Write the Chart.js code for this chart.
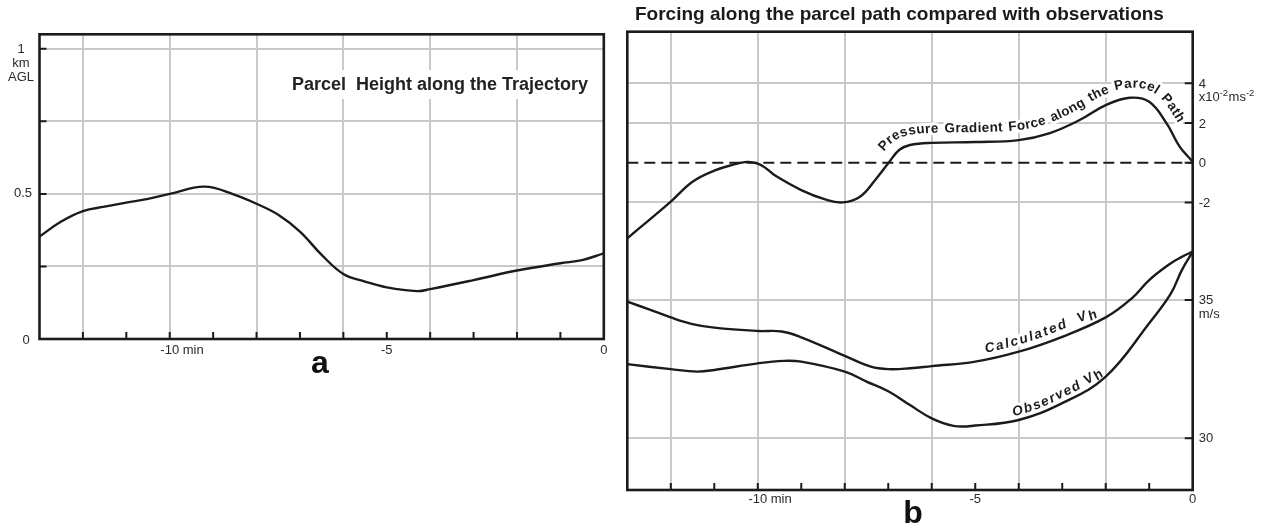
<!DOCTYPE html>
<html>
<head>
<meta charset="utf-8">
<script src="https://cdn.jsdelivr.net/npm/chart.js@4.4.1/dist/chart.umd.min.js"></script>
<style>
  html, body { margin: 0; padding: 0; background: #fff; }
  body { width: 1267px; height: 528px; position: relative; overflow: hidden; }
  canvas { position: absolute; top: 0; }
  #chartA { left: 0; }
  #chartB { left: 620px; }
</style>
</head>
<body>
<canvas id="chartA" width="620" height="528"></canvas>
<canvas id="chartB" width="647" height="528"></canvas>
<script>
// panel a - parcel height (km AGL) against time (min)
const timeA = [-13, -12.5, -12, -11.5, -11, -10.5, -10, -9.2, -8.5, -8, -7.5, -7, -6.5, -6, -5.5, -5, -4.3, -4, -3, -2, -1, -0.5, 0];
const heightA = [0.353, 0.405, 0.441, 0.456, 0.470, 0.483, 0.50, 0.525, 0.497, 0.466, 0.428, 0.37, 0.29, 0.224, 0.198, 0.178, 0.165, 0.172, 0.203, 0.236, 0.261, 0.272, 0.295];

// panel b - pressure gradient force (x10^-2 m s^-2)
const timeForce = [-13, -12.5, -12, -11.5, -11, -10.6, -10.25, -10, -9.8, -9.6, -9, -8.45, -8.05, -7.65, -7.3, -7, -6.75, -6.5, -6, -5, -4, -3.3, -2.6, -2, -1.45, -1, -0.6, -0.3, 0];
const pgForce = [-3.81, -2.89, -1.96, -0.96, -0.40, -0.12, 0.04, -0.05, -0.3, -0.65, -1.38, -1.85, -2.0, -1.71, -0.87, -0.03, 0.64, 0.89, 1.0, 1.04, 1.14, 1.48, 2.15, 2.9, 3.27, 3.07, 1.98, 0.81, 0.05];

// panel b - horizontal wind speed (m/s)
const timeCalc = [-13, -12.5, -12, -11.5, -11, -10, -9.45, -9, -8, -7.4, -7, -6.5, -6, -5, -4, -3, -2, -1.4, -1, -0.5, -0.25, 0];
const calcVh = [34.94, 34.66, 34.37, 34.13, 34.0, 33.88, 33.86, 33.65, 32.98, 32.59, 32.5, 32.53, 32.61, 32.77, 33.13, 33.67, 34.37, 35.06, 35.72, 36.33, 36.56, 36.75];
const timeObs = [-13, -12, -11.4, -11, -10, -9.4, -9, -8, -7.5, -7, -6.5, -6, -5.5, -5, -4, -3, -2, -1, -0.5, -0.25, 0];
const obsVh = [32.68, 32.5, 32.41, 32.47, 32.71, 32.8, 32.77, 32.41, 32.05, 31.7, 31.2, 30.72, 30.45, 30.46, 30.66, 31.27, 32.23, 34.16, 35.24, 36.08, 36.75];

const zeroTimes = [-13, 0];
const zeroForce = [0, 0];

// ticks and labels
const gridMinutes = [-12, -10, -8, -6, -4, -2];
const tickMinutes = [-12, -11, -10, -9, -8, -7, -6, -5, -4, -3, -2, -1];
const minuteLabelValues = [-10, -5, 0];
const minuteLabelTexts = ['-10 min', '-5', '0'];
const heightTicks = [0.25, 0.5, 0.75, 1];
const forceTicks = [4, 2, 0, -2];
const forceGrid = [4, 2, -2];
const speedTicks = [35, 30];

const ink = '#1b1b1b';
const labelInk = '#2a2a2a';
const gridGray = '#c9c9c9';
const sans = '"Liberation Sans", Arial, Helvetica, sans-serif';
const tickFont = '13px ' + sans;

function pts(xs, ys) {
    return xs.map((x, i) => ({ x: x, y: ys[i] }))
}

function lineSet(data, axis, extra) {
    return Object.assign({
        data: data,
        yAxisID: axis,
        borderColor: ink,
        borderWidth: 2.4,
        pointRadius: 0,
        fill: false,
        tension: 0.4
    }, extra || {});
}

function minuteScale() {
    return {
        type: 'linear',
        min: -13,
        max: 0,
        afterBuildTicks: (s) => { s.ticks = gridMinutes.map(v => ({ value: v })) },
        ticks: { display: false },
        grid: { color: gridGray, lineWidth: 2, drawTicks: false },
        border: { display: false }
    }
}

function hiddenAxis(min, max, gridValues, pos) {
    return {
        type: 'linear',
        position: pos,
        min: min,
        max: max,
        afterBuildTicks: (s) => { s.ticks = gridValues.map(v => ({ value: v })) },
        ticks: { display: false },
        grid: { color: gridGray, lineWidth: 2, drawTicks: false },
        border: { display: false }
    }
}

function drawFrame(chart) {
    const ctx = chart.ctx, a = chart.chartArea;
    ctx.save();
    ctx.strokeStyle = ink;
    ctx.lineWidth = 2.6;
    ctx.strokeRect(a.left, a.top, a.right - a.left, a.bottom - a.top);
    ctx.restore();
}

function drawTickMarks(chart, scale, values, side, len) {
    const ctx = chart.ctx, a = chart.chartArea;
    ctx.save();
    ctx.strokeStyle = ink;
    ctx.lineWidth = 2;
    ctx.beginPath();
    values.forEach(v => {
        const p = scale.getPixelForValue(v);
        if (side === 'bottom') { ctx.moveTo(p, a.bottom); ctx.lineTo(p, a.bottom - len); }
        if (side === 'left') { ctx.moveTo(a.left, p); ctx.lineTo(a.left + len, p); }
        if (side === 'right') { ctx.moveTo(a.right, p); ctx.lineTo(a.right - len, p); }
    });
    ctx.stroke();
    ctx.restore();
}

function drawMinuteLabels(chart, y) {
    const ctx = chart.ctx, xs = chart.scales.x;
    ctx.save();
    ctx.font = tickFont;
    ctx.fillStyle = labelInk;
    ctx.textBaseline = 'middle';
    ctx.textAlign = 'left';
    minuteLabelValues.forEach((v, i) => {
        const txt = minuteLabelTexts[i];
        const num = txt.split(' ')[0];
        ctx.fillText(txt, xs.getPixelForValue(v) - ctx.measureText(num).width / 2, y);
    });
    ctx.restore();
}

function withLength(path) {
    let s = 0;
    path.forEach((q, i) => {
        if (i > 0) s += Math.hypot(q.x - path[i - 1].x, q.y - path[i - 1].y);
        q.s = s;
    });
    return path;
}

// sample the drawn (bezier) curve of a dataset into a polyline
function curvePath(chart, index) {
    const meta = chart.getDatasetMeta(index);
    if (meta.dataset && meta.dataset.updateControlPoints) {
        meta.dataset.updateControlPoints(chart.chartArea, 'x');
    }
    const p = meta.data;
    const out = [];
    for (let i = 0; i < p.length - 1; i++) {
        const a = p[i], b = p[i + 1];
        const c1x = a.cp2x ?? a.x, c1y = a.cp2y ?? a.y;
        const c2x = b.cp1x ?? b.x, c2y = b.cp1y ?? b.y;
        for (let k = 0; k < 12; k++) {
            const t = k / 12, u = 1 - t;
            out.push({
                x: u * u * u * a.x + 3 * u * u * t * c1x + 3 * u * t * t * c2x + t * t * t * b.x,
                y: u * u * u * a.y + 3 * u * u * t * c1y + 3 * u * t * t * c2y + t * t * t * b.y
            });
        }
    }
    out.push({ x: p[p.length - 1].x, y: p[p.length - 1].y });
    return withLength(out);
}

function pointAt(path, s) {
    if (s <= 0) return path[0];
    for (let i = 1; i < path.length; i++) {
        if (path[i].s >= s) {
            const a = path[i - 1], b = path[i];
            const f = (s - a.s) / ((b.s - a.s) || 1);
            return { x: a.x + (b.x - a.x) * f, y: a.y + (b.y - a.y) * f };
        }
    }
    return path[path.length - 1];
}

function angleAt(path, s, win) {
    const pa = pointAt(path, s - win), pb = pointAt(path, s + win);
    return Math.atan2(pb.y - pa.y, pb.x - pa.x);
}

// writes text that follows a curve at a distance above it, '_' makes the next char a subscript
function textOnCurve(chart, index, startMinute, text, o) {
    const ctx = chart.ctx;
    const base = curvePath(chart, index);
    const path = withLength(base.map(q => {
        const ang = angleAt(base, q.s, o.win);
        return { x: q.x + Math.sin(ang) * o.offset, y: q.y - Math.cos(ang) * o.offset };
    }));
    const startX = chart.scales.x.getPixelForValue(startMinute);
    let cursor = 0;
    for (const q of path) { if (q.x >= startX) { cursor = q.s; break; } }
    ctx.save();
    ctx.font = o.font;
    const glyphs = [];
    let sub = false;
    for (const ch of text) {
        if (ch === '_') { sub = true; continue; }
        const w = ctx.measureText(ch).width + (ch === ' ' ? (o.wordGap || 0) : 0);
        const mid = cursor + w / 2;
        const p = pointAt(path, mid);
        const ang = angleAt(path, mid, o.win);
        const drop = sub ? o.subDrop : 0;
        glyphs.push({ ch: ch, x: p.x - Math.sin(ang) * drop, y: p.y + Math.cos(ang) * drop, ang: ang });
        cursor += w + o.spacing;
        sub = false;
    }
    ctx.textAlign = 'center';
    ctx.textBaseline = 'alphabetic';
    ctx.lineJoin = 'round';
    ['halo', 'fill'].forEach(pass => {
        glyphs.forEach(g => {
            if (g.ch === ' ') return;
            ctx.save();
            ctx.translate(g.x, g.y);
            ctx.rotate(g.ang);
            if (pass === 'halo') {
                ctx.strokeStyle = '#fff';
                ctx.lineWidth = 6;
                ctx.strokeText(g.ch, 0, 0);
            } else {
                ctx.fillStyle = ink;
                ctx.fillText(g.ch, 0, 0);
            }
            ctx.restore();
        });
    });
    ctx.restore();
}

// ---------- panel a ----------
const panelA = {
    id: 'panelA',
    beforeDatasetsDraw(chart) {
        const ctx = chart.ctx;
        ctx.save();
        ctx.fillStyle = '#fff';
        ctx.fillRect(292, 70, 300, 29);
        ctx.font = 'bold 18px ' + sans;
        ctx.fillStyle = '#222';
        ctx.textBaseline = 'middle';
        ctx.textAlign = 'left';
        ctx.fillText('Parcel  Height along the Trajectory', 292, 85);
        ctx.restore();
    },
    afterDatasetsDraw(chart) {
        const ctx = chart.ctx;
        const ys = chart.scales.y;
        drawTickMarks(chart, chart.scales.x, tickMinutes, 'bottom', 7);
        drawTickMarks(chart, ys, heightTicks, 'left', 7);
        drawFrame(chart);
        drawMinuteLabels(chart, 350);

        ctx.save();
        ctx.font = tickFont;
        ctx.fillStyle = labelInk;
        ctx.textAlign = 'center';
        ctx.textBaseline = 'middle';
        const y1 = ys.getPixelForValue(1);
        ctx.fillText('1', 21, y1 + 1);
        ctx.fillText('km', 21, y1 + 15);
        ctx.fillText('AGL', 21, y1 + 29);
        ctx.fillText('0.5', 23, ys.getPixelForValue(0.5));
        ctx.fillText('0', 26, ys.getPixelForValue(0) + 1);
        ctx.font = 'bold 32px ' + sans;
        ctx.fillStyle = '#111';
        ctx.fillText('a', 320, 364);
        ctx.restore();
    }
};

new Chart(document.getElementById('chartA'), {
    type: 'line',
    data: {
        datasets: [lineSet(pts(timeA, heightA), 'y')]
    },
    options: {
        responsive: false,
        animation: false,
        events: [],
        layout: { padding: { left: 39.5, right: 16.2, top: 34.3, bottom: 189 } },
        plugins: { legend: { display: false }, tooltip: { enabled: false } },
        scales: {
            x: minuteScale(),
            y: hiddenAxis(0, 1.05, heightTicks, 'left')
        }
    },
    plugins: [panelA]
});

// ---------- panel b ----------
const panelB = {
    id: 'panelB',
    beforeDatasetsDraw(chart) {
        const italic = 'italic bold 13.5px ' + sans;
        textOnCurve(chart, 0, -7.1, 'Pressure Gradient Force along the Parcel Path',
            { font: 'bold 13.5px ' + sans, spacing: 0.4, wordGap: 1.5, offset: 10, win: 14, subDrop: 0 });
        textOnCurve(chart, 1, -4.8, 'Calculated  V_h',
            { font: italic, spacing: 1.9, offset: 7, win: 12, subDrop: 3 });
        textOnCurve(chart, 2, -4.2, 'Observed V_h',
            { font: italic, spacing: 1.6, offset: 5, win: 12, subDrop: 3 });
    },
    afterDatasetsDraw(chart) {
        const ctx = chart.ctx;
        const yF = chart.scales.yF, yV = chart.scales.yV;
        const a = chart.chartArea;
        drawTickMarks(chart, chart.scales.x, tickMinutes, 'bottom', 7);
        drawTickMarks(chart, yF, forceTicks, 'right', 8);
        drawTickMarks(chart, yV, speedTicks, 'right', 8);
        drawFrame(chart);
        drawMinuteLabels(chart, 499);

        ctx.save();
        ctx.font = tickFont;
        ctx.fillStyle = labelInk;
        ctx.textAlign = 'left';
        ctx.textBaseline = 'middle';
        const lx = a.right + 6;
        forceTicks.forEach(v => ctx.fillText(String(v), lx, yF.getPixelForValue(v) + 1));
        speedTicks.forEach(v => ctx.fillText(String(v), lx, yV.getPixelForValue(v)));
        ctx.fillText('m/s', lx, yV.getPixelForValue(35) + 14);

        // x10^-2 ms^-2 unit
        let ux = lx;
        const uy = yF.getPixelForValue(4) + 14;
        [['x10', false], ['-2', true], ['ms', false], ['-2', true]].forEach(part => {
            ctx.font = part[1] ? '9.5px ' + sans : tickFont;
            ctx.fillText(part[0], ux, part[1] ? uy - 4 : uy);
            ux += ctx.measureText(part[0]).width + (part[1] ? 0.5 : 0);
        });

        ctx.font = 'bold 19px ' + sans;
        ctx.fillStyle = '#1a1a1a';
        ctx.fillText('Forcing along the parcel path compared with observations', 15, 15);

        ctx.font = 'bold 32px ' + sans;
        ctx.fillStyle = '#111';
        ctx.textAlign = 'center';
        ctx.fillText('b', 293, 514);
        ctx.restore();
    }
};

new Chart(document.getElementById('chartB'), {
    type: 'line',
    data: {
        datasets: [
            lineSet(pts(timeForce, pgForce), 'yF'),
            lineSet(pts(timeCalc, calcVh), 'yV'),
            lineSet(pts(timeObs, obsVh), 'yV'),
            lineSet(pts(zeroTimes, zeroForce), 'yF', { borderWidth: 2, borderDash: [11, 6], tension: 0 })
        ]
    },
    options: {
        responsive: false,
        animation: false,
        events: [],
        layout: { padding: { left: 7.3, right: 74.3, top: 31.7, bottom: 38 } },
        plugins: { legend: { display: false }, tooltip: { enabled: false } },
        scales: {
            x: minuteScale(),
            yF: hiddenAxis(-16.49, 6.6, forceGrid, 'right'),
            yV: hiddenAxis(28.13, 44.7, speedTicks, 'right')
        }
    },
    plugins: [panelB]
});
</script>
</body>
</html>
